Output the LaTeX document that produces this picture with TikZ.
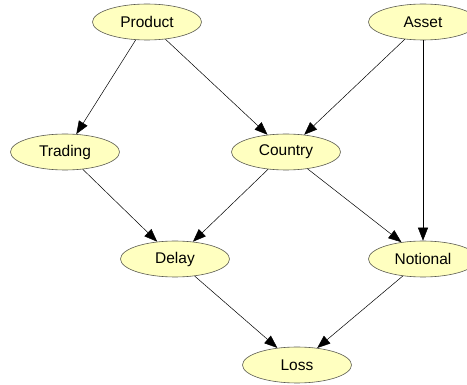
\documentclass[tikz,border=0pt]{standalone}
\usepackage{fontspec}
\setmainfont{Liberation Sans}
\usetikzlibrary{shapes.geometric,arrows.meta}
\definecolor{nodefill}{RGB}{255,255,192}
\definecolor{nodeline}{RGB}{90,90,80}
\begin{document}
\begin{tikzpicture}[x=1pt,y=-1pt,
    var/.style={ellipse, draw=nodeline, fill=nodefill, line width=0.6pt,
        minimum width=109pt, minimum height=36pt, inner sep=0pt,
        font=\fontsize{15.5}{18}\selectfont},
    edge/.style={-{Triangle[length=13pt,width=10pt]}, line width=0.5pt}]
    \useasboundingbox (0,0) rectangle (467,385);
    % Draw variables
    \node [var] (product) at (147,22) {Product};
    \node [var] (asset) at (423,22) {Asset};
    \node [var] (trading) at (65,152) {Trading};
    \node [var] (country) at (286,152) {Country};
    \node [var] (delay) at (175,259) {Delay};
    \node [var] (notional) at (423,259) {Notional};
    \node [var] (loss) at (297,365) {Loss};
    % Draw dependencies
    \draw [edge] (product) -- (trading);
    \draw [edge] (product) -- (country);
    \draw [edge] (asset) -- (country);
    \draw [edge] (asset) -- (notional);
    \draw [edge] (trading) -- (delay);
    \draw [edge] (country) -- (delay);
    \draw [edge] (country) -- (notional);
    \draw [edge] (delay) -- (loss);
    \draw [edge] (notional) -- (loss);
\end{tikzpicture}
\end{document}
